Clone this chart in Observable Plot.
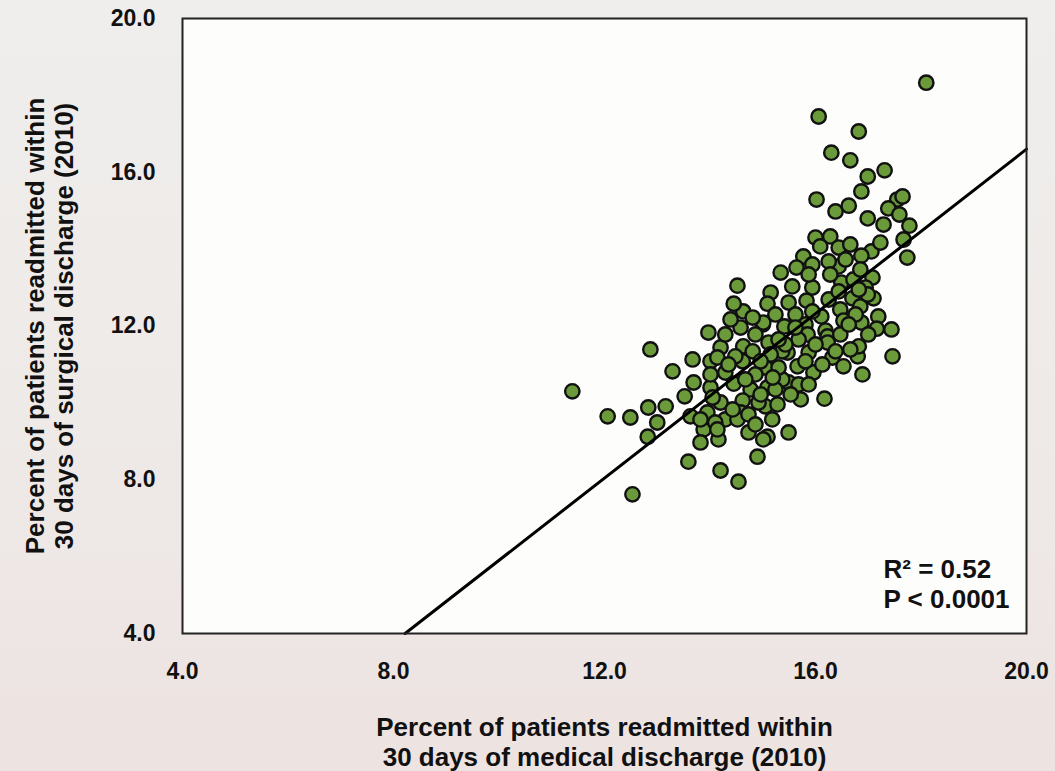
<!DOCTYPE html>
<html><head><meta charset="utf-8">
<script src="https://cdn.jsdelivr.net/npm/d3@7"></script>
<script src="https://cdn.jsdelivr.net/npm/@observablehq/plot@0.6"></script>
<style>
html,body{margin:0;padding:0;}
body{width:1055px;height:771px;overflow:hidden;background:linear-gradient(to bottom,#efeeec 0%,#eeeae8 55%,#ede3e1 100%);}
#chart svg{display:block;}
</style></head><body><div id="chart"></div>
<script>
// Percent readmitted within 30 days of medical discharge (x) and surgical discharge (y), 2010
const medical = [18.10,16.06,16.82,16.30,16.66,17.31,16.99,16.87,16.02,16.38,16.63,17.55,17.65,17.38,16.99,17.29,17.78,17.59,17.67,17.74,
16.00,16.28,16.44,16.09,15.77,15.94,16.44,17.06,17.23,16.87,15.34,15.56,15.94,16.49,15.15,16.72,17.08,16.95,17.10,14.52,
15.09,15.49,15.83,16.25,16.70,16.11,16.47,16.85,16.53,16.87,17.19,17.44,17.16,14.63,15.00,15.41,15.81,16.19,14.45,15.85,
16.23,15.47,15.87,16.32,16.53,16.80,16.82,17.46,16.89,15.66,15.96,15.49,16.17,15.72,13.97,14.58,14.20,14.63,15.11,15.37,
16.23,13.67,14.01,14.62,15.05,14.29,13.69,14.01,14.45,14.77,15.09,13.52,14.20,14.62,15.05,15.28,13.63,13.95,14.29,14.58,
13.88,14.73,15.49,15.09,12.87,13.29,12.06,12.49,12.83,13.16,13.00,12.82,13.82,14.10,14.52,13.82,14.16,15.01,14.90,13.59,
14.20,14.54,11.39,12.53,14.14,14.92,14.48,14.14,15.37,15.01,16.99,
14.86,15.24,15.62,15.68,16.00,16.47,16.66,14.86,15.30,15.68,14.96,14.73,15.18,16.44,16.25,16.66,16.85,15.81,16.13,15.24,
14.81,14.39,14.01,15.43,15.64,16.57,15.15,16.76,
14.29,14.81,15.30,15.62,16.63,17.00,16.82,16.28,15.87,14.67,15.19,15.53,15.87,14.43,14.86,14.05,15.94,16.38,14.96,14.35];
const surgical = [18.33,17.45,17.06,16.51,16.31,16.05,15.89,15.50,15.29,14.98,15.13,15.29,15.37,15.06,14.80,14.64,14.61,14.90,14.25,13.78,
14.30,14.33,14.04,14.07,13.81,13.60,13.55,13.94,14.17,13.83,13.39,13.03,13.00,13.13,12.87,13.21,13.26,13.00,12.72,13.05,
12.58,12.61,12.66,12.69,12.72,12.25,12.43,12.51,12.14,12.09,12.25,11.91,11.93,12.38,12.04,11.99,12.04,11.88,12.58,11.78,
11.73,11.31,11.31,11.18,10.95,11.21,11.47,11.21,10.74,10.95,10.79,10.53,10.11,10.09,11.83,11.96,11.44,11.47,11.57,11.34,
11.57,11.13,11.08,11.08,10.92,10.79,10.53,10.40,10.50,10.35,10.40,10.17,10.01,10.06,9.91,9.96,9.65,9.75,9.57,9.75,
9.31,9.23,9.23,9.12,11.39,10.82,9.65,9.62,9.88,9.91,9.49,9.12,9.57,9.49,9.57,8.97,9.05,9.05,8.60,8.47,
8.24,7.95,10.30,7.62,9.31,10.01,11.21,11.18,10.61,12.09,12.82,
11.78,12.30,12.30,11.65,11.52,11.78,11.39,10.74,10.92,10.48,10.22,9.70,9.57,12.90,13.68,14.12,13.47,11.08,11.00,10.35,
11.34,12.17,10.74,11.52,13.52,13.73,11.26,12.30,
11.78,12.22,11.65,11.96,12.04,11.78,12.95,13.34,13.34,10.61,10.66,10.22,10.48,9.83,9.44,10.14,12.38,11.34,11.08,11.00];

const xTicks = [4, 8, 12, 16, 20];
const xTickLabels = ["4.0", "8.0", "12.0", "16.0", "20.0"];
const yTicks = [4, 8, 12, 16, 20];
const yTickLabels = ["4.0", "8.0", "12.0", "16.0", "20.0"];
const fitX = [8.22, 20];
const fitY = [4, 16.6];
const xTitle = ["Percent of patients readmitted within", "30 days of medical discharge (2010)"];
const yTitle = ["Percent of patients readmitted within", "30 days of surgical discharge (2010)"];
const stats = ["R\u00B2 = 0.52", "P < 0.0001"];

const points = medical.map((m, i) => ({medical: m, surgical: surgical[i]}));
const fit = fitX.map((x, i) => ({x, y: fitY[i]}));

const chart = Plot.plot({
  width: 1055, height: 771,
  marginLeft: 182, marginRight: 29, marginTop: 18, marginBottom: 138,
  style: {fontFamily: "'Liberation Sans', Arial, sans-serif", fontWeight: "bold", background: "transparent", color: "#111", overflow: "visible"},
  x: {domain: [4, 20]},
  y: {domain: [4, 20]},
  marks: [
    Plot.frame({fill: "#fdfdfc", stroke: null}),
    Plot.axisX({ticks: xTicks, tickFormat: d => xTickLabels[xTicks.indexOf(d)], tickSize: 0, tickPadding: 29, fontSize: 23, fontWeight: "bold", label: null, fill: "#111"}),
    Plot.axisY({ticks: yTicks, tickFormat: d => yTickLabels[yTicks.indexOf(d)], tickSize: 0, tickPadding: 27, fontSize: 23, fontWeight: "bold", label: null, fill: "#111"}),
    Plot.dot(points, {x: "medical", y: "surgical", r: 7.2, fill: "#6a9a39", stroke: "#111", strokeWidth: 2.4}),
    Plot.line(fit, {x: "x", y: "y", stroke: "#000", strokeWidth: 3}),
    Plot.text([xTitle.join("\n")], {frameAnchor: "bottom", lineAnchor: "top", dy: 81, fontSize: 26, fontWeight: "bold", lineHeight: 1.15, fill: "#111"}),
    Plot.text([yTitle.join("\n")], {frameAnchor: "left", textAnchor: "middle", rotate: -90, lineAnchor: "top", dx: -158, fontSize: 26, fontWeight: "bold", lineHeight: 1.08, fill: "#111"}),
    Plot.text([stats.join("\n")], {frameAnchor: "bottom-right", textAnchor: "start", lineAnchor: "bottom", dx: -143, dy: -26, fontSize: 26, fontWeight: "bold", lineHeight: 1.15, fill: "#111"}),
    Plot.frame({stroke: "#222", strokeWidth: 2})
  ]
});
document.getElementById("chart").appendChild(chart);
</script>
</body></html>
